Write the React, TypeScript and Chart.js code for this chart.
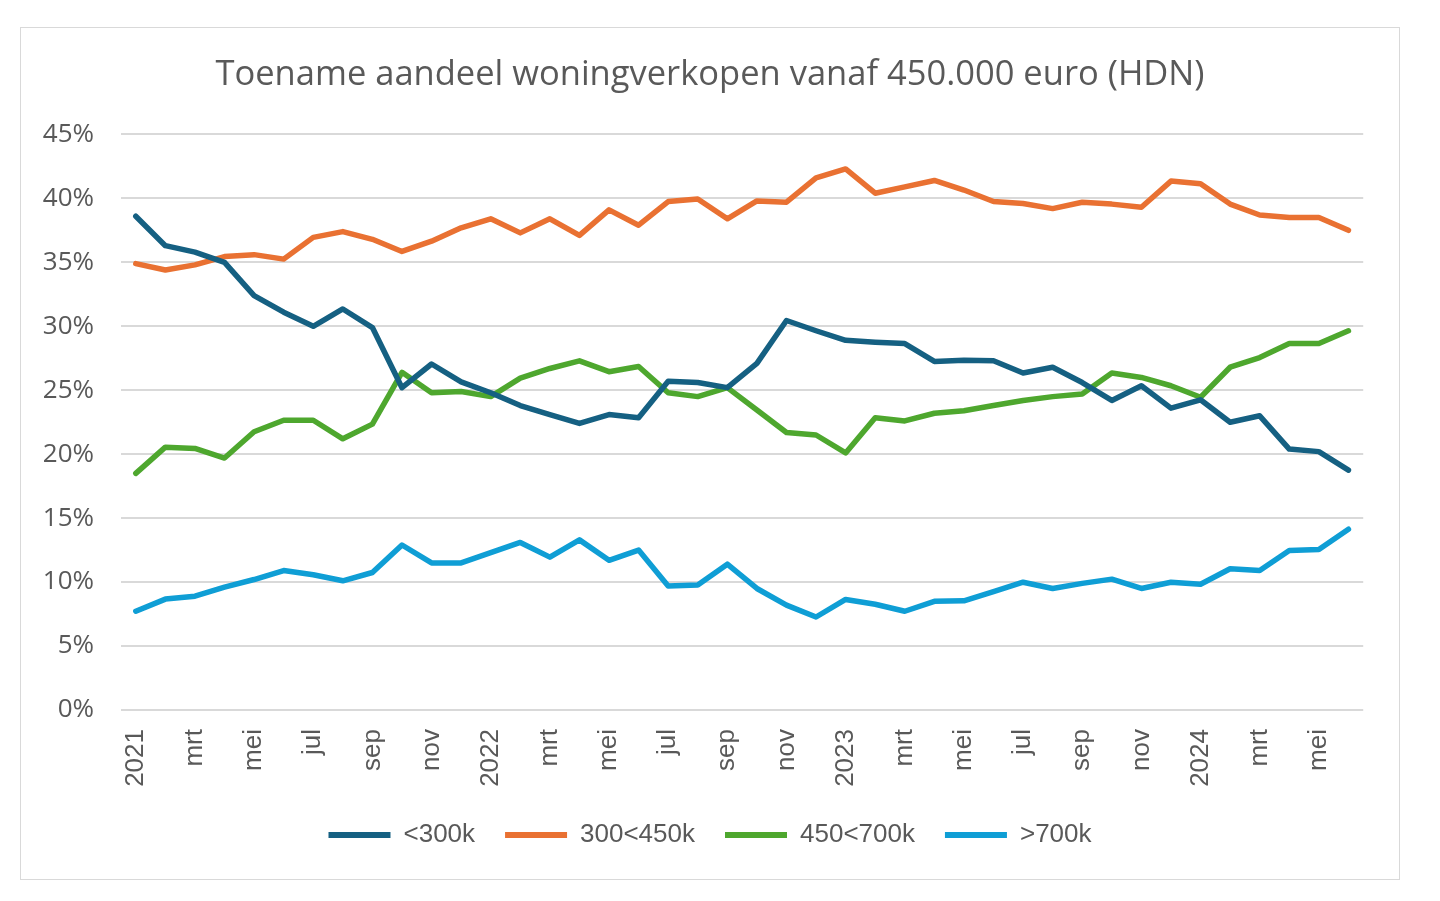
import Chart from "chart.js/auto";
import { useEffect, useRef } from "react";

const monthNames = ["jan", "feb", "mrt", "apr", "mei", "jun", "jul", "aug", "sep", "okt", "nov", "dec"];
const years = [2021, 2022, 2023, 2024];
const monthsIn2024 = 6;

// one category per month, january shows the year
const labels: string[] = [];
years.forEach((year) => {
  const count = year === 2024 ? monthsIn2024 : 12;
  for (let m = 0; m < count; m++) {
    labels.push(m === 0 ? String(year) : monthNames[m]);
  }
});

const seriesNames = ["<300k", "300<450k", "450<700k", ">700k"];
const seriesColors = ["#156082", "#E97132", "#4EA72E", "#0F9ED5"];

const below300 = [
  38.6, 36.3, 35.8, 35.0, 32.4, 31.1, 30.0, 31.35, 29.9, 25.2, 27.05, 25.65,
  24.8, 23.8, 23.1, 22.4, 23.1, 22.85, 25.7, 25.6, 25.2, 27.1, 30.45, 29.65,
  28.9, 28.75, 28.65, 27.25, 27.35, 27.3, 26.35, 26.8, 25.6, 24.2, 25.35, 23.6,
  24.25, 22.5, 23.0, 20.4, 20.2, 18.75,
];
const from300to450 = [
  34.9, 34.4, 34.8, 35.45, 35.6, 35.25, 36.95, 37.4, 36.8, 35.85, 36.65, 37.7,
  38.4, 37.3, 38.4, 37.1, 39.1, 37.9, 39.75, 39.95, 38.4, 39.8, 39.7, 41.6,
  42.3, 40.4, 40.9, 41.4, 40.65, 39.75, 39.6, 39.2, 39.7, 39.55, 39.3, 41.35,
  41.15, 39.55, 38.7, 38.5, 38.5, 37.5,
];
const from450to700 = [
  18.5, 20.55, 20.45, 19.7, 21.75, 22.65, 22.65, 21.2, 22.35, 26.4, 24.8, 24.9,
  24.5, 25.95, 26.7, 27.3, 26.45, 26.85, 24.8, 24.5, 25.2, 23.45, 21.7, 21.5,
  20.1, 22.85, 22.6, 23.2, 23.4, 23.8, 24.2, 24.5, 24.7, 26.35, 26.0, 25.35,
  24.45, 26.8, 27.55, 28.65, 28.65, 29.65,
];
const above700 = [
  7.72, 8.67, 8.9, 9.6, 10.2, 10.9, 10.57, 10.1, 10.75, 12.9, 11.5, 11.5,
  12.3, 13.1, 11.95, 13.3, 11.7, 12.5, 9.7, 9.78, 11.4, 9.5, 8.2, 7.27,
  8.64, 8.27, 7.72, 8.5, 8.54, 9.25, 9.99, 9.5, 9.9, 10.23, 9.5, 9.99,
  9.83, 11.04, 10.9, 12.47, 12.55, 14.13,
];

const seriesValues = [below300, from300to450, from450to700, above700];

const textColor = "#595959";

export default function App() {
  const canvasRef = useRef<HTMLCanvasElement | null>(null);
  const chartRef = useRef<Chart | null>(null);

  useEffect(() => {
    if (!canvasRef.current) {
      return;
    }
    if (chartRef.current) {
      chartRef.current.destroy();
    }

    chartRef.current = new Chart(canvasRef.current, {
      type: "line",
      data: {
        labels,
        datasets: seriesNames.map((name, i) => ({
          label: name,
          data: seriesValues[i],
          borderColor: seriesColors[i],
          backgroundColor: seriesColors[i],
          borderWidth: 5.5,
          borderCapStyle: "round" as const,
          borderJoinStyle: "round" as const,
          pointRadius: 0,
          tension: 0,
        })),
      },
      options: {
        animation: false,
        responsive: false,
        maintainAspectRatio: false,
        layout: { padding: { left: 0, right: 0, top: 0, bottom: 21 } },
        plugins: {
          title: {
            display: true,
            text: "Toename aandeel woningverkopen vanaf 450.000 euro (HDN)",
            color: textColor,
            font: { family: "Open Sans", size: 34.5, weight: "normal" },
            padding: { top: 26, bottom: 39 },
          },
          legend: {
            position: "bottom",
            labels: {
              color: textColor,
              font: { family: "Liberation Sans", size: 26 },
              boxWidth: 62,
              boxHeight: 6,
              padding: 30,
              generateLabels: (chart) =>
                Chart.defaults.plugins.legend.labels
                  .generateLabels(chart)
                  .map((item) => ({ ...item, lineWidth: 0 })),
            },
          },
          tooltip: { enabled: false },
        },
        scales: {
          x: {
            offset: true,
            grid: { display: false, drawTicks: false },
            border: { display: false },
            ticks: {
              autoSkip: false,
              minRotation: 90,
              maxRotation: 90,
              padding: 19,
              color: textColor,
              font: { family: "Liberation Sans", size: 26 },
              callback: (_value, index) => (index % 2 === 0 ? labels[index] : ""),
            },
            afterFit: (scale) => {
              scale.height = 82;
            },
          },
          y: {
            min: 0,
            max: 45,
            grid: { color: "#d9d9d9", lineWidth: 2, drawTicks: false },
            border: { display: false },
            ticks: {
              stepSize: 5,
              padding: 27,
              color: textColor,
              font: { family: "Open Sans", size: 26 },
              callback: (value) => `${value}%`,
            },
            afterFit: (scale) => {
              scale.width = 100;
            },
          },
          // empty right-hand axis, only keeps space between plot and border
          spacer: {
            type: "linear",
            position: "right",
            display: true,
            grid: { display: false, drawTicks: false },
            border: { display: false },
            ticks: { display: false },
            afterFit: (scale) => {
              scale.width = 31;
            },
          },
        },
      },
    });

    return () => {
      chartRef.current?.destroy();
      chartRef.current = null;
    };
  }, []);

  return (
    <div
      style={{
        position: "absolute",
        left: 0,
        top: 0,
        width: 1440,
        height: 901,
        background: "#ffffff",
      }}
    >
      <div
        style={{
          position: "absolute",
          left: 20,
          top: 27,
          width: 1380,
          height: 853,
          border: "1px solid #d9d9d9",
          boxSizing: "border-box",
        }}
      >
        <canvas ref={canvasRef} width={1378} height={851} style={{ display: "block" }} />
      </div>
    </div>
  );
}
